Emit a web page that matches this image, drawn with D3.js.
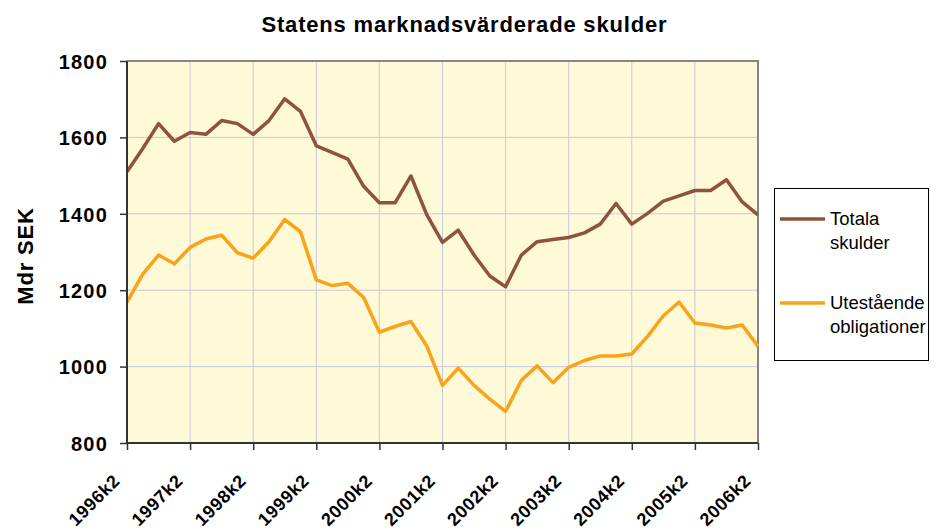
<!DOCTYPE html>
<html>
<head>
<meta charset="utf-8">
<script src="https://cdn.jsdelivr.net/npm/d3@7"></script>
<style>
  body { margin: 0; background: #fff; }
  svg text { font-family: Arial, "Liberation Sans", sans-serif; }
</style>
</head>
<body>
<div id="chart"></div>
<script>
// quarters 1996k2 .. 2006k2
var years = d3.range(1996, 2007);
var quarters = [];
years.forEach(function(y) {
	["k1", "k2", "k3", "k4"].forEach(function(q) { quarters.push(y + q); });
});
quarters = quarters.slice(1, 42);

var tickLabels = years.map(function(y) { return y + "k2"; });
var yTicks = [800, 1000, 1200, 1400, 1600, 1800];

var totala = [1510, 1571, 1636, 1590, 1613, 1608, 1644, 1636, 1608, 1644,
	1701, 1668, 1578, 1561, 1543, 1472, 1429, 1429, 1499, 1398,
	1325, 1357, 1292, 1237, 1209, 1292, 1327, 1333, 1338, 1350,
	1373, 1427, 1373, 1401, 1433, 1447, 1461, 1461, 1489, 1431, 1397];

var obligationer = [1169, 1242, 1292, 1269, 1312, 1334, 1344, 1298, 1284, 1327,
	1385, 1353, 1227, 1212, 1218, 1181, 1090, 1105, 1118, 1054,
	951, 996, 951, 915, 883, 964, 1002, 958, 998, 1016,
	1028, 1028, 1033, 1079, 1133, 1169, 1114, 1109, 1101, 1109, 1053];

var series = [
	{ name: ["Totala", "skulder"], values: totala, color: "#8f523e" },
	{ name: ["Utestående", "obligationer"], values: obligationer, color: "#f9a31b" }
];

var svgWidth = 936;
var svgHeight = 532;
var margin = { top: 61, right: 178, bottom: 89, left: 127 };
var width = svgWidth - margin.left - margin.right;
var height = svgHeight - margin.top - margin.bottom;

var svg = d3.select("#chart")
	.append("svg")
	.attr("width", svgWidth)
	.attr("height", svgHeight);

var chartGroup = svg.append("g")
	.attr("transform", `translate(${margin.left}, ${margin.top})`);

var xScale = d3.scalePoint()
	.domain(quarters)
	.range([0, width]);

var yScale = d3.scaleLinear()
	.domain([800, 1800])
	.range([height, 0]);

// plot background
chartGroup.append("rect")
	.attr("width", width)
	.attr("height", height)
	.attr("fill", "#fef9d6");

// gridlines
chartGroup.append("g")
	.selectAll("line.h")
	.data(yTicks)
	.enter()
	.append("line")
	.attr("x1", 0)
	.attr("x2", width)
	.attr("y1", d => yScale(d))
	.attr("y2", d => yScale(d))
	.attr("stroke", "#c9c8e0")
	.attr("stroke-width", 1);

chartGroup.append("g")
	.selectAll("line.v")
	.data(tickLabels)
	.enter()
	.append("line")
	.attr("x1", d => xScale(d))
	.attr("x2", d => xScale(d))
	.attr("y1", 0)
	.attr("y2", height)
	.attr("stroke", "#c9c8e0")
	.attr("stroke-width", 1);

// top/right border
chartGroup.append("path")
	.attr("d", `M0,0H${width}V${height}`)
	.attr("fill", "none")
	.attr("stroke", "#858585")
	.attr("stroke-width", 2);

// lines
var line = d3.line()
	.x((d, i) => xScale(quarters[i]))
	.y(d => yScale(d));

series.forEach(function(s) {
	chartGroup.append("path")
		.datum(s.values)
		.attr("d", line)
		.attr("fill", "none")
		.attr("stroke", s.color)
		.attr("stroke-width", 3.5)
		.attr("stroke-linejoin", "round");
});

// axes
var leftAxis = d3.axisLeft(yScale)
	.tickValues(yTicks)
	.tickSize(7)
	.tickPadding(12)
	.tickFormat(d3.format("d"));

var bottomAxis = d3.axisBottom(xScale)
	.tickValues(tickLabels)
	.tickSize(7)
	.tickFormat("");

var yAxis = chartGroup.append("g")
	.call(leftAxis);

yAxis.select(".domain")
	.attr("stroke", "#333")
	.attr("stroke-width", 2)
	.attr("d", `M0,${height + 1}V0`);
yAxis.selectAll(".tick line").attr("stroke", "#333").attr("stroke-width", 1.5);
yAxis.selectAll(".tick text")
	.attr("font-size", 20)
	.attr("font-weight", "bold")
	.attr("letter-spacing", 1.2)
	.attr("fill", "#000")
	.attr("dy", "0.36em");

var xAxis = chartGroup.append("g")
	.attr("transform", `translate(0, ${height})`)
	.call(bottomAxis);

xAxis.select(".domain")
	.attr("stroke", "#333")
	.attr("stroke-width", 2)
	.attr("d", `M-1,0H${width}`);
xAxis.selectAll(".tick line").attr("stroke", "#333").attr("stroke-width", 1.5);

// rotated x labels
chartGroup.append("g")
	.selectAll("text")
	.data(tickLabels)
	.enter()
	.append("text")
	.attr("transform", d => `translate(${xScale(d) - 6}, ${height + 39}) rotate(-45)`)
	.attr("text-anchor", "end")
	.attr("font-size", 18)
	.attr("font-weight", "bold")
	.attr("letter-spacing", 0.6)
	.text(d => d);

// title
svg.append("text")
	.attr("x", 464)
	.attr("y", 32)
	.attr("text-anchor", "middle")
	.attr("font-size", 22)
	.attr("font-weight", "bold")
	.attr("textLength", 405)
	.attr("lengthAdjust", "spacing")
	.text("Statens marknadsvärderade skulder");

// y axis label
svg.append("text")
	.attr("transform", "translate(33, 256) rotate(-90)")
	.attr("text-anchor", "middle")
	.attr("font-size", 22)
	.attr("font-weight", "bold")
	.attr("letter-spacing", 0.8)
	.text("Mdr SEK");

// legend
var legend = svg.append("g");

legend.append("rect")
	.attr("x", 774.5)
	.attr("y", 188.5)
	.attr("width", 154)
	.attr("height", 172)
	.attr("fill", "#fff")
	.attr("stroke", "#000")
	.attr("stroke-width", 1);

var legendY = [219, 303];
series.forEach(function(s, i) {
	legend.append("line")
		.attr("x1", 780)
		.attr("x2", 825)
		.attr("y1", legendY[i])
		.attr("y2", legendY[i])
		.attr("stroke", s.color)
		.attr("stroke-width", 3.5);

	var t = legend.append("text")
		.attr("x", 830)
		.attr("y", legendY[i] + 6)
		.attr("font-size", 18.5);
	s.name.forEach(function(n, j) {
		t.append("tspan")
			.attr("x", 830)
			.attr("dy", j === 0 ? 0 : 24)
			.text(n);
	});
});
</script>
</body>
</html>
